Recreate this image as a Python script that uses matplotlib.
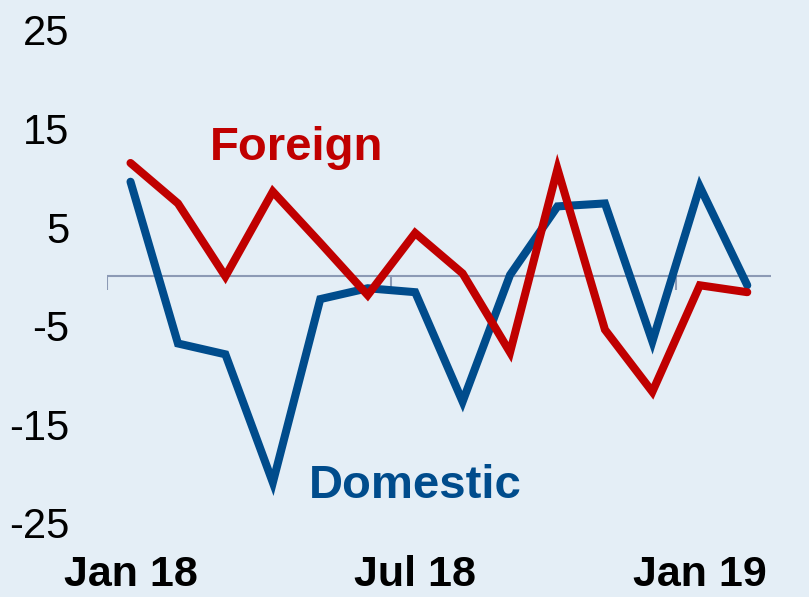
import numpy as np
import matplotlib.pyplot as plt

months = ["Jan 18", "Feb 18", "Mar 18", "Apr 18", "May 18", "Jun 18", "Jul 18",
          "Aug 18", "Sep 18", "Oct 18", "Nov 18", "Dec 18", "Jan 19", "Feb 19"]
foreign = [11.5, 7.4, 0.0, 8.6, 3.4, -1.9, 4.4, 0.3, -7.7, 10.9, -5.4, -11.7, -0.9, -1.6]
domestic = [9.6, -6.8, -7.9, -20.9, -2.3, -1.2, -1.6, -12.7, 0.15, 7.1, 7.4, -6.6, 9.1, -0.9]
y_ticks = [25, 15, 5, -5, -15, -25]
x_label_idx = [0, 6, 12]
x_mark_pos = [-0.5, 5.5, 11.5]

BG = "#E4EEF6"
RED = "#C00000"
BLUE = "#004C8C"
AXIS = "#8C9AB5"

fig = plt.figure(figsize=(8.09, 5.97), dpi=100, facecolor=BG)
ax = fig.add_axes([0.132, 0.124, 0.821, 0.826])
ax.set_facecolor(BG)

x = np.arange(len(months))

# zero line with little boundary ticks hanging below it
ax.axhline(0, color=AXIS, lw=1.5, zorder=1)
ax.vlines(x_mark_pos, -1.35, 0, color=AXIS, lw=1.5, zorder=1)

ax.plot(x, foreign, color=RED, lw=5.8, solid_joinstyle="miter", solid_capstyle="round", zorder=3)
ax.plot(x, domestic, color=BLUE, lw=5.8, solid_joinstyle="miter", solid_capstyle="round", zorder=2)

ax.set_xlim(-0.5, 13.5)
ax.set_ylim(-25, 25)
for s in ax.spines.values():
    s.set_visible(False)

ax.set_yticks(y_ticks)
ax.set_yticklabels([str(v) for v in y_ticks], fontsize=30, family="Liberation Sans")
ax.tick_params(axis="y", length=0, pad=27)

ax.set_xticks(x_label_idx)
ax.set_xticklabels([months[i] for i in x_label_idx], fontsize=31,
                   family="Liberation Sans", fontweight="bold")
ax.tick_params(axis="x", length=0, pad=23)

ax.text(3.5, 13.0, "Foreign", color=RED, fontsize=34, fontweight="bold",
        family="Liberation Sans", ha="center", va="center")
ax.text(6.0, -21.3, "Domestic", color=BLUE, fontsize=34, fontweight="bold",
        family="Liberation Sans", ha="center", va="center")

fig.savefig("out.png", dpi=100, facecolor=BG)
